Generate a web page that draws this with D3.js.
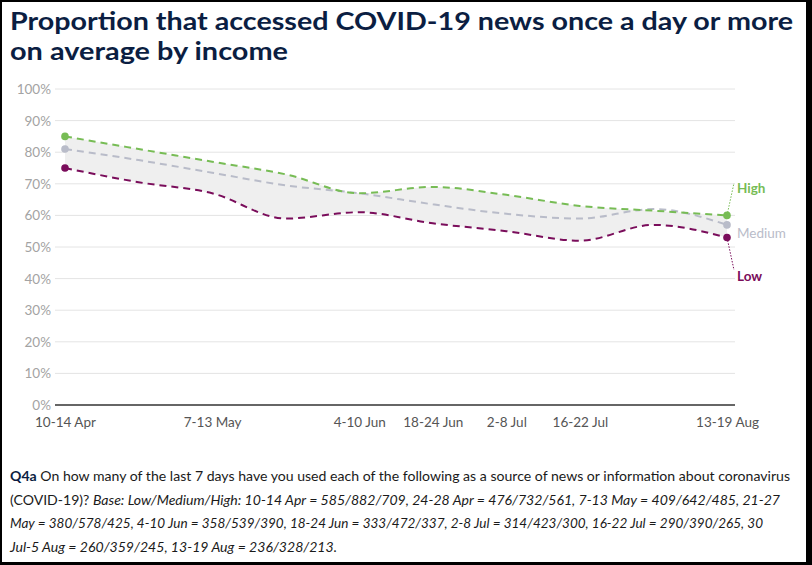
<!DOCTYPE html>
<html><head><meta charset="utf-8">
<script src="https://cdn.jsdelivr.net/npm/d3@7"></script>
<style>
html,body{margin:0;padding:0;background:#fff;}
svg{display:block;}
</style></head>
<body>
<script>
const categories = ["10-14 Apr","24-28 Apr","7-13 May","21-27 May","4-10 Jun","18-24 Jun","2-8 Jul","16-22 Jul","30 Jul-5 Aug","13-19 Aug"];
const shownTicks = ["10-14 Apr","7-13 May","4-10 Jun","18-24 Jun","2-8 Jul","16-22 Jul","13-19 Aug"];
const high   = [85, 81, 77, 73, 67, 69, 66.5, 63, 61.5, 60];
const medium = [81, 77.5, 73.5, 69.5, 67, 63.5, 60.5, 59, 62, 57];
const low    = [75, 70.5, 67, 59, 61, 57.5, 55, 52, 57, 53];
const yTicks = [0,10,20,30,40,50,60,70,80,90,100];
const seriesNames = ["High","Medium","Low"];

const W = 812, H = 565;
const svg = d3.select("body").append("svg").attr("width", W).attr("height", H);

const x = d3.scalePoint().domain(categories).range([65, 727]);
const y = d3.scaleLinear().domain([0, 100]).range([405, 89]);

const colors = {High:"#77bc55", Medium:"#b9bcc9", Low:"#7a0d5b"};

// Title
const title = svg.append("g").attr("font-family","Lato, 'Open Sans', sans-serif").attr("font-weight","bold").attr("fill","#0b1e42").attr("font-size",25.5);
title.append("text").attr("x",10).attr("y",30).attr("textLength",783).attr("lengthAdjust","spacingAndGlyphs").text("Proportion that accessed COVID-19 news once a day or more");
title.append("text").attr("x",10).attr("y",60).attr("textLength",278).attr("lengthAdjust","spacingAndGlyphs").text("on average by income");

// gridlines
svg.append("g").selectAll("line").data(yTicks.filter(d=>d>0)).join("line")
  .attr("x1",55).attr("x2",735).attr("y1",d=>y(d)).attr("y2",d=>y(d))
  .attr("stroke","#e4e4e4").attr("stroke-width",1);

// y labels
svg.append("g").selectAll("text").data(yTicks).join("text")
  .attr("x",51).attr("y",d=>y(d)+5).attr("text-anchor","end")
  .attr("font-family","Lato, sans-serif").attr("font-size",13.5).attr("fill","#a3a3a3")
  .text(d=>d+"%");

// baseline axis
const xAxis = d3.axisBottom(x).tickValues(shownTicks).tickSize(0).tickPadding(12);
const gx = svg.append("g").attr("transform",`translate(0,${y(0)})`).call(xAxis);
gx.select(".domain").attr("d","M55,0H735").attr("stroke","#333").attr("stroke-width",1.5);
gx.selectAll("text").attr("font-family","Lato, sans-serif").attr("font-size",13.5).attr("fill","#555");

const curve = d3.curveMonotoneX;
const idx = d3.range(categories.length);

// band
const area = d3.area().x(i=>x(categories[i])).y0(i=>y(low[i])).y1(i=>y(high[i])).curve(curve);
svg.append("path").attr("d",area(idx)).attr("fill","#efefef");

const data = {High:high, Medium:medium, Low:low};
const line = vals => d3.line().x(i=>x(categories[i])).y(i=>y(vals[i])).curve(curve)(idx);

["Medium","High","Low"].forEach(n=>{
  svg.append("path").attr("d",line(data[n])).attr("fill","none")
    .attr("stroke",colors[n]).attr("stroke-width",2).attr("stroke-dasharray","7,5");
});

seriesNames.forEach(n=>{
  const v = data[n];
  [0, v.length-1].forEach(i=>{
    svg.append("circle").attr("cx",x(categories[i])).attr("cy",y(v[i])).attr("r",3.8).attr("fill",colors[n]);
  });
});

// labels and leaders
const last = categories[categories.length-1];
const lx = x(last);
const labelPos = {High:{ly:183, ty:193}, Medium:{ly:null, ty:238}, Low:{ly:270, ty:281}};
seriesNames.forEach(n=>{
  const v = data[n][data[n].length-1];
  const p = labelPos[n];
  if (p.ly !== null) {
    svg.append("line").attr("x1",lx).attr("y1",y(v)).attr("x2",lx+7).attr("y2",p.ly)
      .attr("stroke",colors[n]).attr("stroke-width",1).attr("stroke-dasharray","1.5,1.5");
  }
  svg.append("text").attr("x",lx+10).attr("y",p.ty).attr("font-family","Lato, sans-serif")
    .attr("font-size",13.5).attr("fill",colors[n]).attr("font-weight", n==="Medium"?"normal":"bold").text(n);
});

// footnote
const fn = svg.append("g").attr("font-family","Lato, sans-serif").attr("font-size",13.5).attr("fill","#1a1a1a");
const t1 = fn.append("text").attr("x",10).attr("y",481).attr("textLength",780).attr("lengthAdjust","spacingAndGlyphs");
t1.append("tspan").attr("font-weight","bold").attr("fill","#0b1e42").text("Q4a");
t1.append("tspan").text(" On how many of the last 7 days have you used each of the following as a source of news or information about coronavirus");
const t2 = fn.append("text").attr("x",10).attr("y",505).attr("textLength",770).attr("lengthAdjust","spacingAndGlyphs");
t2.append("tspan").text("(COVID-19)? ");
t2.append("tspan").attr("font-style","italic").text("Base: Low/Medium/High: 10-14 Apr = 585/882/709, 24-28 Apr = 476/732/561, 7-13 May = 409/642/485, 21-27");
fn.append("text").attr("x",10).attr("y",528).attr("textLength",753).attr("lengthAdjust","spacingAndGlyphs").attr("font-style","italic")
  .text("May = 380/578/425, 4-10 Jun = 358/539/390, 18-24 Jun = 333/472/337, 2-8 Jul = 314/423/300, 16-22 Jul = 290/390/265, 30");
fn.append("text").attr("x",10).attr("y",552).attr("textLength",327).attr("lengthAdjust","spacingAndGlyphs").attr("font-style","italic")
  .text("Jul-5 Aug = 260/359/245, 13-19 Aug = 236/328/213.");

// frame
svg.append("rect").attr("x",0).attr("y",0).attr("width",2).attr("height",H).attr("fill","#000");
svg.append("rect").attr("x",0).attr("y",0).attr("width",W).attr("height",2).attr("fill","#000");
svg.append("rect").attr("x",806).attr("y",0).attr("width",6).attr("height",H).attr("fill","#000");
svg.append("rect").attr("x",0).attr("y",562).attr("width",W).attr("height",3).attr("fill","#000");
</script>
</body></html>
